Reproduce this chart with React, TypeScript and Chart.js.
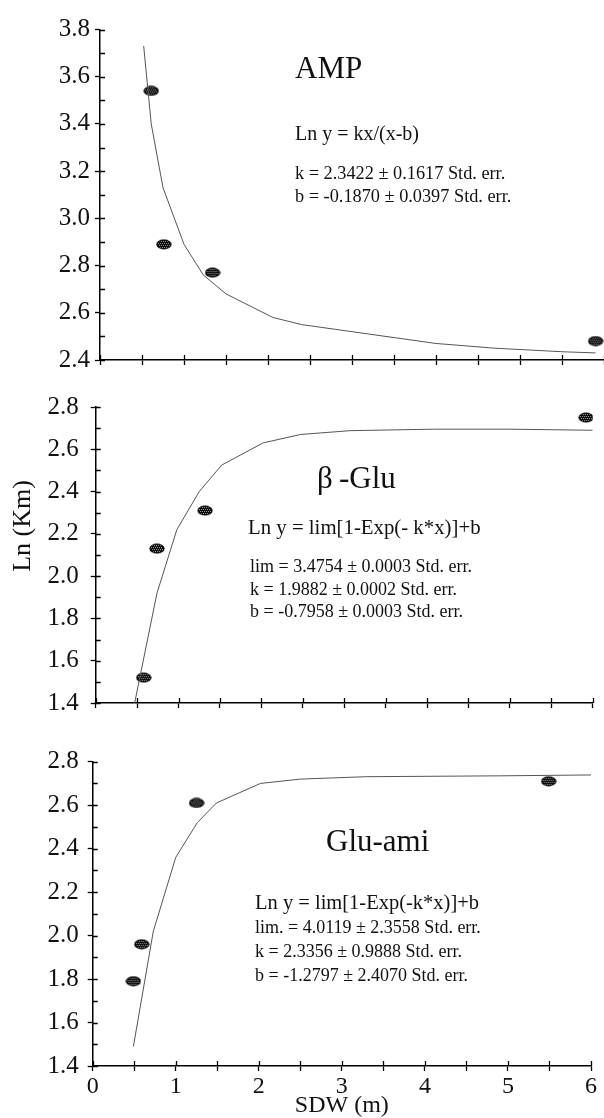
import React, { useEffect, useRef } from "react";
import { Chart, registerables } from "chart.js";

Chart.register(...registerables);

// ---------- DATA ----------
const X_MIN = 0;
const X_MAX = 6;
const X_TICK_LABELS = ["0", "1", "2", "3", "4", "5", "6"];

// AMP panel
const AMP_OBS_X = [0.61, 0.76, 1.34, 5.9];
const AMP_OBS_Y = [3.54, 2.89, 2.77, 2.48];
const AMP_FIT_X = [0.52, 0.61, 0.75, 1.0, 1.23, 1.5, 2.06, 2.4, 2.8, 3.2, 4.0, 4.7, 5.5, 5.9];
const AMP_FIT_Y = [3.73, 3.4, 3.13, 2.89, 2.76, 2.68, 2.58, 2.55, 2.53, 2.51, 2.47, 2.45, 2.435, 2.43];

// beta-Glu panel
const BGLU_OBS_X = [0.58, 0.74, 1.32, 5.92];
const BGLU_OBS_Y = [1.52, 2.13, 2.31, 2.75];
const BGLU_FIT_X = [0.47, 0.74, 0.98, 1.25, 1.52, 2.02, 2.47, 3.07, 4.08, 5.0, 6.0];
const BGLU_FIT_Y = [1.4, 1.92, 2.22, 2.4, 2.525, 2.63, 2.67, 2.688, 2.695, 2.695, 2.69];

// Glu-ami panel
const GAMI_OBS_X = [0.49, 0.59, 1.25, 5.49];
const GAMI_OBS_Y = [1.79, 1.96, 2.61, 2.71];
const GAMI_FIT_X = [0.49, 0.73, 1.0, 1.26, 1.49, 2.02, 2.5, 3.3, 4.9, 6.0];
const GAMI_FIT_Y = [1.49, 2.02, 2.36, 2.52, 2.61, 2.7, 2.72, 2.731, 2.735, 2.739];

const SERIF = "'Liberation Serif', 'Times New Roman', serif";

type TextItem = { t: string; x: number; y: number; size: number };

type Panel = {
  obsX: number[];
  obsY: number[];
  fitX: number[];
  fitY: number[];
  yMin: number;
  yMax: number;
  top: number;
  width: number;
  height: number;
  axisLeft: number;
  padTop: number;
  padRight: number;
  xAxisHeight: number;
  yLabelPad: number;
  showXLabels: boolean;
  yTitle?: { t: string; x: number; y: number; size: number };
  texts: TextItem[];
};

const PANELS: Panel[] = [
  {
    obsX: AMP_OBS_X, obsY: AMP_OBS_Y, fitX: AMP_FIT_X, fitY: AMP_FIT_Y,
    yMin: 2.4, yMax: 3.8,
    top: 0, width: 612, height: 380,
    axisLeft: 100, padTop: 29.5, padRight: 7, xAxisHeight: 20, yLabelPad: 5,
    showXLabels: false,
    texts: [
      { t: "AMP", x: 295, y: 70, size: 31 },
      { t: "Ln y = kx/(x-b)", x: 295, y: 135, size: 20 },
      { t: "k = 2.3422 \u00b1 0.1617 Std. err.", x: 295, y: 174, size: 18.3 },
      { t: "b = -0.1870 \u00b1 0.0397 Std. err.", x: 295, y: 197, size: 18.3 },
    ],
  },
  {
    obsX: BGLU_OBS_X, obsY: BGLU_OBS_Y, fitX: BGLU_FIT_X, fitY: BGLU_FIT_Y,
    yMin: 1.4, yMax: 2.8,
    top: 380, width: 604, height: 350,
    axisLeft: 95.7, padTop: 25, padRight: 11.3, xAxisHeight: 20, yLabelPad: 12,
    showXLabels: false,
    yTitle: { t: "Ln (Km)", x: 23, y: 146, size: 26 },
    texts: [
      { t: "\u03b2\u2009-Glu", x: 317, y: 100, size: 31 },
      { t: "Ln y = lim[1-Exp(- k*x)]+b", x: 248, y: 149, size: 20.8 },
      { t: "lim = 3.4754 \u00b1 0.0003 Std. err.", x: 250, y: 187, size: 18 },
      { t: "k = 1.9882 \u00b1 0.0002 Std. err.", x: 250, y: 210, size: 18 },
      { t: "b = -0.7958 \u00b1 0.0003 Std. err.", x: 250, y: 232, size: 18 },
    ],
  },
  {
    obsX: GAMI_OBS_X, obsY: GAMI_OBS_Y, fitX: GAMI_FIT_X, fitY: GAMI_FIT_Y,
    yMin: 1.4, yMax: 2.8,
    top: 730, width: 604, height: 388,
    axisLeft: 92.7, padTop: 31.7, padRight: 13, xAxisHeight: 52, yLabelPad: 9,
    showXLabels: true,
    texts: [
      { t: "Glu-ami", x: 326, y: 113, size: 31 },
      { t: "Ln y = lim[1-Exp(-k*x)]+b", x: 255, y: 174, size: 20.5 },
      { t: "lim. = 4.0119 \u00b1 2.3558 Std. err.", x: 255, y: 198, size: 18 },
      { t: "k = 2.3356 \u00b1 0.9888 Std. err.", x: 255, y: 222, size: 18 },
      { t: "b = -1.2797 \u00b1 2.4070 Std. err.", x: 255, y: 246, size: 18 },
    ],
  },
];

function makeMarker(): HTMLCanvasElement {
  const c = document.createElement("canvas");
  c.width = 16;
  c.height = 11;
  const g = c.getContext("2d")!;
  g.beginPath();
  g.ellipse(8, 5.5, 7.6, 4.9, 0, 0, Math.PI * 2);
  g.fillStyle = "#000";
  g.fill();
  g.save();
  g.beginPath();
  g.ellipse(8, 5.5, 6.4, 3.8, 0, 0, Math.PI * 2);
  g.clip();
  g.fillStyle = "#bdbdbd";
  for (let y = 0; y < 11; y++) {
    for (let x = 0; x < 16; x++) {
      if (y % 2 === 0 && x % 2 === (y % 4 === 0 ? 0 : 1)) g.fillRect(x, y, 1, 1);
    }
  }
  g.restore();
  return c;
}

const isMajor = (v: number) => Math.round(v * 10) % 2 === 0;

const innerTicks = {
  id: "innerTicks",
  afterDatasetsDraw(chart: any) {
    const { ctx, chartArea } = chart;
    const xs = chart.scales.x;
    const ys = chart.scales.y;
    ctx.save();
    ctx.strokeStyle = "#000";
    ctx.lineWidth = 1.3;
    ctx.beginPath();
    ys.ticks.forEach((t: any) => {
      const py = Math.round(ys.getPixelForValue(t.value)) + 0.5;
      ctx.moveTo(chartArea.left, py);
      ctx.lineTo(chartArea.left + 5, py);
    });
    xs.ticks.forEach((t: any) => {
      const px = Math.round(xs.getPixelForValue(t.value)) + 0.5;
      ctx.moveTo(px, chartArea.bottom);
      ctx.lineTo(px, chartArea.bottom - 5);
    });
    ctx.stroke();
    ctx.restore();
  },
};

const textPlugin = {
  id: "panelTexts",
  afterDraw(chart: any, _args: any, opts: any) {
    const { ctx } = chart;
    ctx.save();
    ctx.fillStyle = "#111";
    ctx.textBaseline = "middle";
    ctx.textAlign = "left";
    (opts.texts || []).forEach((it: TextItem) => {
      ctx.font = `${it.size}px ${SERIF}`;
      ctx.fillText(it.t, it.x, it.y);
    });
    if (opts.yTitle) {
      const yt = opts.yTitle;
      ctx.translate(yt.x, yt.y);
      ctx.rotate(-Math.PI / 2);
      ctx.textAlign = "center";
      ctx.font = `${yt.size}px ${SERIF}`;
      ctx.fillText(yt.t, 0, 0);
    }
    ctx.restore();
  },
};

function PanelChart({ p }: { p: Panel }) {
  const ref = useRef<HTMLCanvasElement | null>(null);
  useEffect(() => {
    if (!ref.current) return;
    const marker = makeMarker();
    const chart = new Chart(ref.current, {
      type: "scatter",
      data: {
        datasets: [
          {
            data: p.fitX.map((x, i) => ({ x, y: p.fitY[i] })),
            showLine: true,
            borderColor: "#555",
            borderWidth: 1,
            pointRadius: 0,
            tension: 0,
          },
          {
            data: p.obsX.map((x, i) => ({ x, y: p.obsY[i] })),
            pointStyle: marker as any,
            pointRadius: 7,
            showLine: false,
          },
        ],
      },
      plugins: [innerTicks, textPlugin],
      options: {
        animation: false,
        responsive: false,
        devicePixelRatio: 1,
        layout: { padding: { top: p.padTop, right: p.padRight, left: 0, bottom: 0 } },
        plugins: {
          legend: { display: false },
          tooltip: { enabled: false },
          panelTexts: { texts: p.texts, yTitle: p.yTitle },
        } as any,
        scales: {
          x: {
            type: "linear",
            min: X_MIN,
            max: X_MAX,
            border: { color: "#000", width: 1.5 },
            grid: { drawOnChartArea: false, drawTicks: true, tickLength: 5, tickColor: "#000", tickWidth: 1.3 },
            ticks: {
              stepSize: 0.5,
              autoSkip: false,
              maxRotation: 0,
              padding: 1,
              color: "#111",
              font: { family: SERIF, size: 24 },
              callback: (v: any) => {
                if (!p.showXLabels) return "";
                const n = Number(v);
                return Math.abs(n - Math.round(n)) < 1e-6 ? X_TICK_LABELS[Math.round(n)] : "";
              },
            },
            title: p.showXLabels
              ? {
                  display: true,
                  text: "SDW (m)",
                  color: "#111",
                  font: { family: SERIF, size: 24, lineHeight: 1 },
                  padding: { top: 0, bottom: 0 },
                }
              : { display: false },
            afterFit: (s: any) => {
              s.height = p.xAxisHeight;
            },
          },
          y: {
            type: "linear",
            min: p.yMin,
            max: p.yMax,
            border: { color: "#000", width: 1.5 },
            grid: {
              drawOnChartArea: false,
              drawTicks: true,
              tickLength: 5,
              tickWidth: 1.3,
              tickColor: (c: any) => (c.tick && isMajor(c.tick.value) ? "#000" : "rgba(0,0,0,0)"),
            },
            ticks: {
              stepSize: 0.1,
              autoSkip: false,
              padding: p.yLabelPad,
              color: "#111",
              font: { family: SERIF, size: 25 },
              callback: (v: any) => (isMajor(Number(v)) ? Number(v).toFixed(1) : ""),
            },
            afterFit: (s: any) => {
              s.width = p.axisLeft;
            },
          },
        },
      } as any,
    });
    return () => chart.destroy();
  }, [p]);
  return (
    <canvas
      ref={ref}
      width={p.width}
      height={p.height}
      style={{ position: "absolute", left: 0, top: p.top, width: p.width, height: p.height }}
    />
  );
}

export default function App() {
  return (
    <div
      style={{
        position: "absolute",
        left: 0,
        top: 0,
        width: 604,
        height: 1118,
        overflow: "hidden",
        background: "#fff",
      }}
    >
      {PANELS.map((p, i) => (
        <PanelChart key={i} p={p} />
      ))}
    </div>
  );
}
